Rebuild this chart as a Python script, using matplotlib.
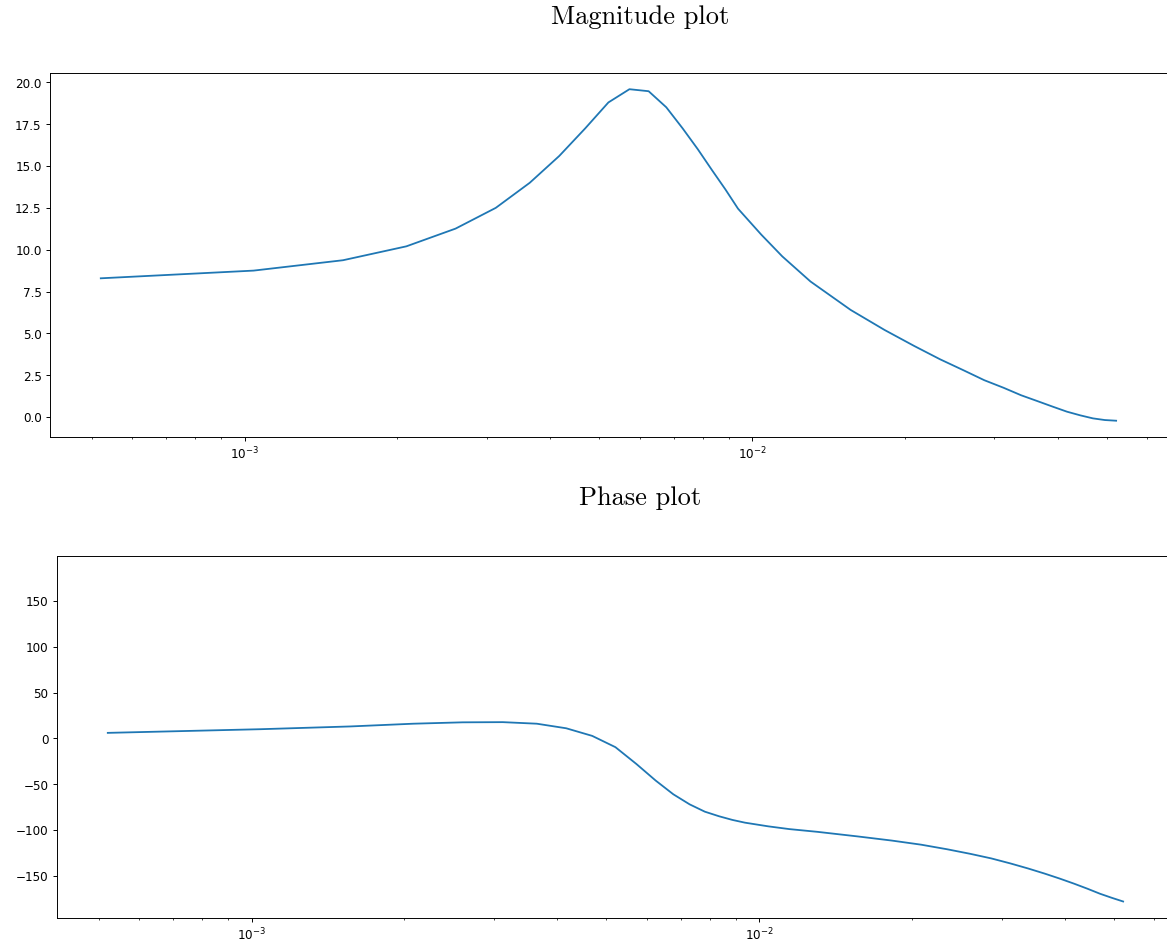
import numpy as np
from matplotlib import pyplot as plt

# frequency grid
freq = [0.000521, 0.001042, 0.001563, 0.002083, 0.002604, 0.003125,
        0.003646, 0.004167, 0.004688, 0.005208, 0.005729, 0.00625,
        0.006771, 0.007292, 0.007813, 0.008333, 0.008854, 0.009375,
        0.010417, 0.011458, 0.013021, 0.015625, 0.018229, 0.020833,
        0.023438, 0.026042, 0.028646, 0.03125, 0.033854, 0.036458,
        0.039063, 0.041667, 0.044271, 0.046875, 0.049479, 0.052083]

magnitude = [8.29, 8.75, 9.37, 10.2, 11.26, 12.5,
             14.0, 15.6, 17.25, 18.8, 19.59, 19.47,
             18.51, 17.25, 16.0, 14.75, 13.6, 12.45,
             10.9, 9.6, 8.1, 6.4, 5.2, 4.25,
             3.45, 2.8, 2.2, 1.75, 1.3, 0.95,
             0.62, 0.32, 0.1, -0.08, -0.18, -0.22]

phase = [6.0, 10.0, 13.0, 16.0, 17.5, 17.7,
         16.0, 11.0, 2.7, -9.6, -28.0, -46.0,
         -61.0, -72.0, -80.0, -85.0, -89.0, -92.0,
         -96.0, -99.0, -102.0, -107.0, -111.5, -116.0,
         -121.0, -126.0, -131.0, -136.5, -142.0, -147.5,
         -153.0, -158.5, -164.0, -169.5, -174.0, -178.0]

W, H, dpi = 1167, 948, 86.4
fig = plt.figure(figsize=((W + 0.4) / dpi, (H + 0.4) / dpi), dpi=dpi)

ax1 = fig.add_axes([50 / W, 1 - 437.5 / H, 1116.5 / W, 364.5 / H])
ax1.plot(freq, magnitude)
ax1.set_xscale('log')

ax2 = fig.add_axes([57 / W, 1 - 918 / H, 1116.5 / W, 362.3 / H])
ax2.plot(freq, phase)
ax2.set_xscale('log')
ax2.set_ylim(-196, 199.5)

fig.text(640 / W, 1 - 24 / H, "Magnitude plot", family='cmr10',
         fontsize=22, ha='center', va='baseline')
fig.text(640 / W, 1 - 505 / H, "Phase plot", family='cmr10',
         fontsize=22, ha='center', va='baseline')

plt.savefig("out.png", dpi=dpi)
plt.close()
